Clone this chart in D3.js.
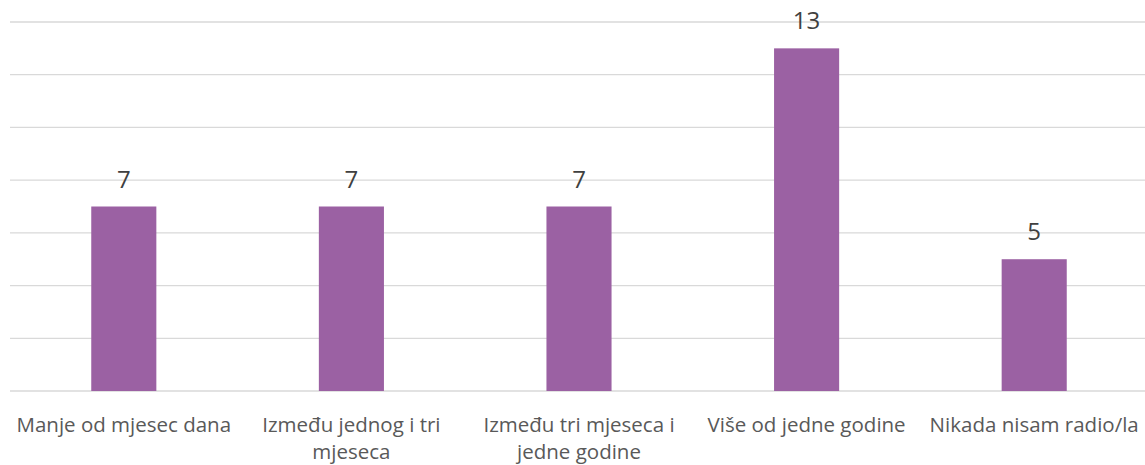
<!DOCTYPE html>
<html>
<head>
<meta charset="utf-8">
<script src="https://cdn.jsdelivr.net/npm/d3@7"></script>
<style>
  body { margin: 0; background: #fff; }
  text { font-family: "Open Sans", sans-serif; }
</style>
</head>
<body>
<svg width="1145" height="465"></svg>
<script>
// data
var categories = ['Manje od mjesec dana', 'Između jednog i tri mjeseca', 'Između tri mjeseca i jedne godine', 'Više od jedne godine', 'Nikada nisam radio/la'];
var labelLines = [['Manje od mjesec dana'], ['Između jednog i tri', 'mjeseca'], ['Između tri mjeseca i', 'jedne godine'], ['Više od jedne godine'], ['Nikada nisam radio/la']];
var values = [7, 7, 7, 13, 5];
var gridTicks = [0, 2, 4, 6, 8, 10, 12, 14];

var svg = d3.select('svg');

var x = d3.scaleBand().domain(categories).range([10, 1148]).padding(0);
var y = d3.scaleLinear().domain([0, 14]).range([391, 22]);
var barW = x.bandwidth() * 0.286;

// gridlines
svg.append('g')
  .selectAll('line')
  .data(gridTicks)
  .enter().append('line')
    .attr('x1', 10)
    .attr('x2', 1145)
    .attr('y1', function(d) { return y(d); })
    .attr('y2', function(d) { return y(d); })
    .attr('stroke', '#d9d9d9')
    .attr('stroke-width', 1.3);

// bars
svg.append('g')
  .selectAll('rect')
  .data(values)
  .enter().append('rect')
    .attr('x', function(d, i) { return x(categories[i]) + x.bandwidth() / 2 - barW / 2; })
    .attr('width', barW)
    .attr('y', function(d) { return y(d); })
    .attr('height', function(d) { return y(0) - y(d); })
    .attr('fill', '#9b61a3');

// data labels
svg.append('g')
  .selectAll('text')
  .data(values)
  .enter().append('text')
    .attr('x', function(d, i) { return x(categories[i]) + x.bandwidth() / 2; })
    .attr('y', function(d) { return y(d) - 19; })
    .attr('text-anchor', 'middle')
    .attr('fill', '#404040')
    .style('font-size', '24px')
    .text(function(d) { return d; });

// category labels
var cat = svg.append('g')
  .selectAll('text')
  .data(categories)
  .enter().append('text')
    .attr('x', function(d) { return x(d) + x.bandwidth() / 2; })
    .attr('y', 432)
    .attr('text-anchor', 'middle')
    .attr('fill', '#595959')
    .style('font-size', '20.5px');

cat.selectAll('tspan')
  .data(function(d, i) { return labelLines[i]; })
  .enter().append('tspan')
    .attr('x', function() { return d3.select(this.parentNode).attr('x'); })
    .attr('dy', function(d, i) { return i === 0 ? 0 : 27; })
    .text(function(d) { return d; });
</script>
</body>
</html>
